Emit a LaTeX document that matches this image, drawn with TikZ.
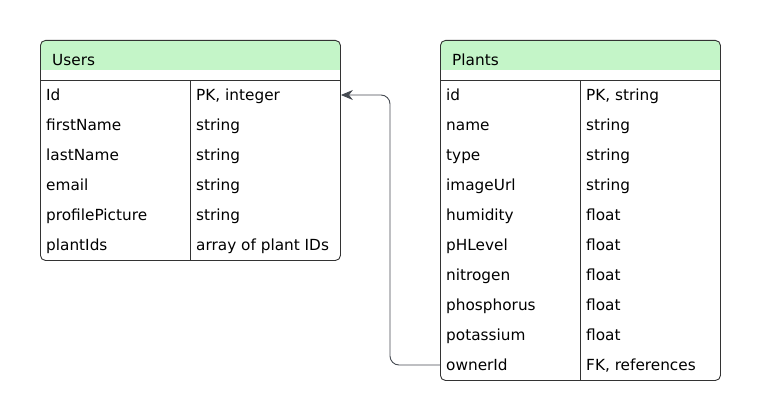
\documentclass[tikz,border=0pt]{standalone}
\usepackage{fontspec}
\setmainfont{DejaVu Sans}
\usepackage{tikz}
\usetikzlibrary{positioning, arrows.meta, calc}
\definecolor{hdr_green}{RGB}{196, 245, 200}
\definecolor{edge_gray}{RGB}{51, 51, 51}
\definecolor{link_gray}{RGB}{70, 75, 82}

\begin{document}
\begin{tikzpicture}[x=1pt, y=1pt, font=\fontsize{15.3}{18}\selectfont, >=Stealth,
      tbl/.style={draw=edge_gray, line width=0.9pt, rounded corners=5pt, anchor=north west, inner sep=0pt},
      hdr/.style={fill=hdr_green, rounded corners=5pt, anchor=north west, inner sep=0pt, minimum height=40pt},
      fld/.style={anchor=west, inner sep=0pt, text height=12.5pt, text depth=1.5pt},
      rel/.style={draw=link_gray, line width=0.9pt, rounded corners=9pt, -{Stealth[length=12pt, width=10pt]}}]
    \useasboundingbox (0,0) rectangle (760,-420);
    % Users table
    \node[hdr, minimum width=300pt] (users-head) at (40,-40) {};
    \fill[white] (40,-70) rectangle (340,-80);
    \node[tbl, minimum width=300pt, minimum height=220pt] (users) at (40,-40) {};
    \node[fld] (users-title) at (52,-60) {Users};
    \draw[edge_gray, line width=0.9pt] (users.west |- 0,-80) -- (users.east |- 0,-80);
    \draw[edge_gray, line width=0.9pt] (190,-80) -- (190,-260);
    \foreach \f/\t [count=\i] in {Id/{PK, integer}, firstName/string, lastName/string,
        email/string, profilePicture/string, plantIds/{array of plant IDs}} {
      \node[fld] (users-f\i) at (46,-65-30*\i) {\f};
      \node[fld] (users-t\i) at (196,-65-30*\i) {\t};
    }
    % Plants table
    \node[hdr, minimum width=280pt] (plants-head) at (440,-40) {};
    \fill[white] (440,-70) rectangle (720,-80);
    \node[tbl, minimum width=280pt, minimum height=340pt] (plants) at (440,-40) {};
    \node[fld] (plants-title) at (452,-60) {Plants};
    \draw[edge_gray, line width=0.9pt] (plants.west |- 0,-80) -- (plants.east |- 0,-80);
    \draw[edge_gray, line width=0.9pt] (580,-80) -- (580,-380);
    \foreach \f/\t [count=\i] in {id/{PK, string}, name/string, type/string, imageUrl/string,
        humidity/float, pHLevel/float, nitrogen/float, phosphorus/float,
        potassium/float, ownerId/{FK, references}} {
      \node[fld] (plants-f\i) at (446,-65-30*\i) {\f};
      \node[fld] (plants-t\i) at (586,-65-30*\i) {\t};
    }
    % ownerId -> Id
    \draw[rel] (plants.west |- plants-f10) -- ++(-50,0) |- (users.east |- users-t1);
  \end{tikzpicture}
\end{document}
